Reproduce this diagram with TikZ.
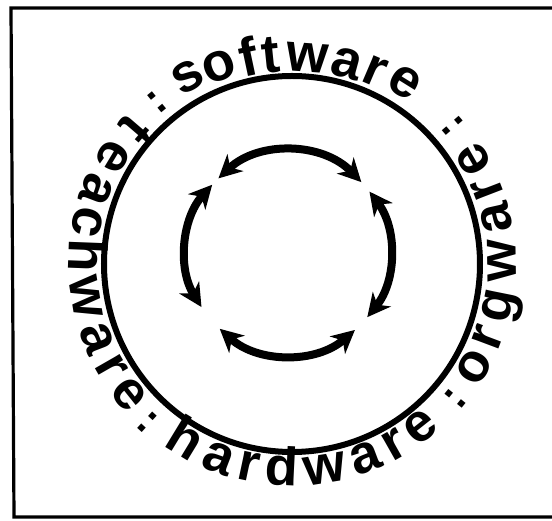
\documentclass[tikz,border=0pt]{standalone}
\usepackage{fontspec}
\newfontfamily\ringfont{Liberation Sans}
\usetikzlibrary{arrows.meta}
\begin{document}
\begin{tikzpicture}[x=1pt,y=1pt,
  lt/.style={inner sep=0pt, anchor=base, font=\ringfont\bfseries\fontsize{54}{54}\selectfont},
  colon/.style={inner sep=0pt, anchor=center, font=\ringfont\bfseries\fontsize{44}{44}\selectfont},
  ring/.style={draw, circle, line width=6pt, minimum size=376pt, inner sep=0pt},
  frame/.style={line width=3.2pt},
  arr/.style={line width=8pt, {Stealth[length=23pt,width=23pt,inset=7pt]}-{Stealth[length=23pt,width=23pt,inset=7pt]}}]
\useasboundingbox (-292,-257) rectangle (260,264);
% frame (right side lies beyond the picture edge)
\draw[frame] (265,256) -- (-281,256) -- (-278,-253) -- (265,-253);
% outer ring
\node[ring] (ring) at (0,0) {};
% software (tops outward)
\foreach \ch/\a/\r [count=\i] in {s/119/200, o/110.3/196, f/102/193, t/95.8/192, w/85.8/192, a/74.8/193, r/66.8/195, e/58.2/200}
  \node[lt, rotate=\a-90] (sw\i) at (\a:\r) {\ch};
% orgware (tops inward, read upwards)
\foreach \ch/\a [count=\i] in {o/-29.6, r/-20.6, g/-11.4, w/0.9, a/12.6, r/21, e/29.8}
  \node[lt, rotate=\a+90] (ow\i) at (\a:224) {\ch};
% hardware (tops inward)
\foreach \ch/\a [count=\i] in {h/-121.3, a/-110.8, r/-102, d/-92.8, w/-80.8, a/-69.3, r/-60.5, e/-51.7}
  \node[lt, rotate=\a+90] (hw\i) at (\a:222) {\ch};
% teachware (tops inward)
\foreach \ch/\a [count=\i] in {t/139.3, e/149, a/159.2, c/168.3, h/177.8, w/189.2, a/201, r/209.8, e/218.6}
  \node[lt, rotate=\a+90] (tw\i) at (\a:223) {\ch};
% separators
\node[colon, rotate=39.6] (c1) at (129.8:211) {:};
\node[colon, rotate=-49.4] (c2) at (40.6:212) {:};
\node[colon, rotate=51] (c3) at (-39.6:212) {:};
\node[colon, rotate=317.5] (c4) at (227.5:214) {:};
% inner arrows
\coordinate (a1) at ([shift={(-4,11)}]133:102);
\coordinate (a2) at ([shift={(-4,11)}]37:102);
\coordinate (a3) at ([shift={(-4,11)}]-49:102);
\coordinate (a4) at ([shift={(-4,11)}]138:102);
\draw[arr] (a1) arc[start angle=133, end angle=44, radius=102];
\draw[arr] (a2) arc[start angle=37, end angle=-39, radius=102];
\draw[arr] (a3) arc[start angle=-49, end angle=-132, radius=102];
\draw[arr] (a4) arc[start angle=138, end angle=212, radius=102];
\end{tikzpicture}
\end{document}
